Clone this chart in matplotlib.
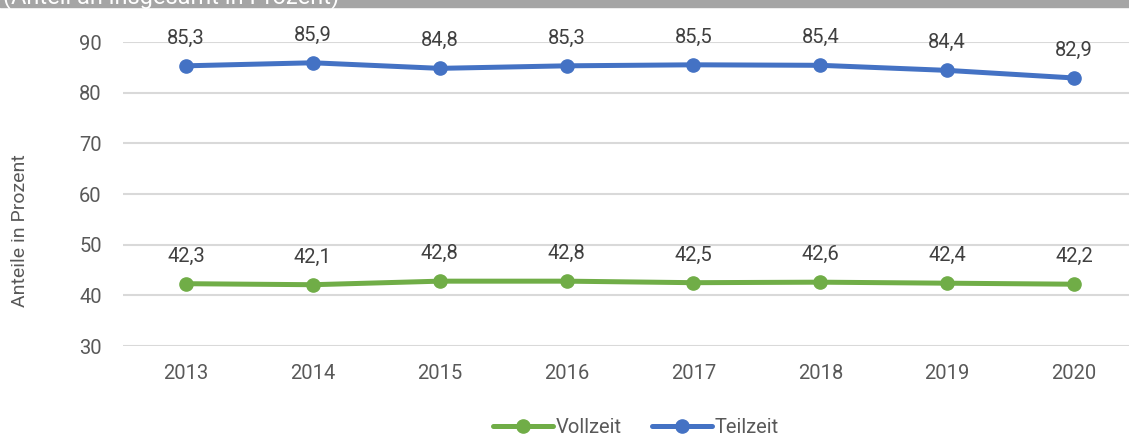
import matplotlib.pyplot as plt
from matplotlib.patches import Rectangle

years = ['2013', '2014', '2015', '2016', '2017', '2018', '2019', '2020']
vollzeit = [42.3, 42.1, 42.8, 42.8, 42.5, 42.6, 42.4, 42.2]
teilzeit = [85.3, 85.9, 84.8, 85.3, 85.5, 85.4, 84.4, 82.9]

GREEN = '#70ad47'
BLUE = '#4472c4'
TEXT = '#595959'

plt.rcParams['font.family'] = ['Roboto', 'DejaVu Sans']

fig = plt.figure(figsize=(11.29, 4.38), dpi=100)
ax = fig.add_axes([0.1086, 0.2100, 0.8914, 0.6941])

x = list(range(len(years)))
ax.plot(x, vollzeit, color=GREEN, lw=3.6, marker='o', ms=9.5,
        label='Vollzeit', clip_on=False, solid_capstyle='round')
ax.plot(x, teilzeit, color=BLUE, lw=3.6, marker='o', ms=9.5,
        label='Teilzeit', clip_on=False, solid_capstyle='round')

# data labels
for series in (vollzeit, teilzeit):
    for xi, v in zip(x, series):
        ax.annotate(f'{v:.1f}'.replace('.', ','), (xi, v), xytext=(0, 13),
                    textcoords='offset points', ha='center', va='bottom',
                    fontsize=14.5, color='#404040')

ax.set_xlim(-0.5, 7.433)
ax.set_ylim(30, 90)
ax.set_yticks(range(30, 91, 10))
ax.set_xticks(x)
ax.set_xticklabels(years)
ax.tick_params(axis='both', length=0, labelsize=14.5, labelcolor=TEXT)
ax.tick_params(axis='x', pad=13)
ax.tick_params(axis='y', pad=15)
ax.grid(axis='y', color='#d9d9d9', lw=1.5)
ax.set_axisbelow(True)
for s in ax.spines.values():
    s.set_visible(False)

fig.text(0.018, 0.473, 'Anteile in Prozent', rotation=90, ha='center',
         va='center', fontsize=14, color=TEXT)

fig.legend(loc='center', bbox_to_anchor=(0.563, 0.025), ncol=2, frameon=False,
           fontsize=14.5, handlelength=3.0, handletextpad=0.1, columnspacing=1.5,
           labelcolor=TEXT)

# grey header banner, cut off at the top
fig.patches.append(Rectangle((0, 1 - 7 / 438), 1, 7 / 438, transform=fig.transFigure,
                             color='#a5a5a5', zorder=0))
fig.text(0.003, 1 - 3 / 438, '(Anteil an insgesamt in Prozent)', ha='left',
         va='baseline', fontsize=17, color='white')

fig.savefig('out.png', dpi=100)
